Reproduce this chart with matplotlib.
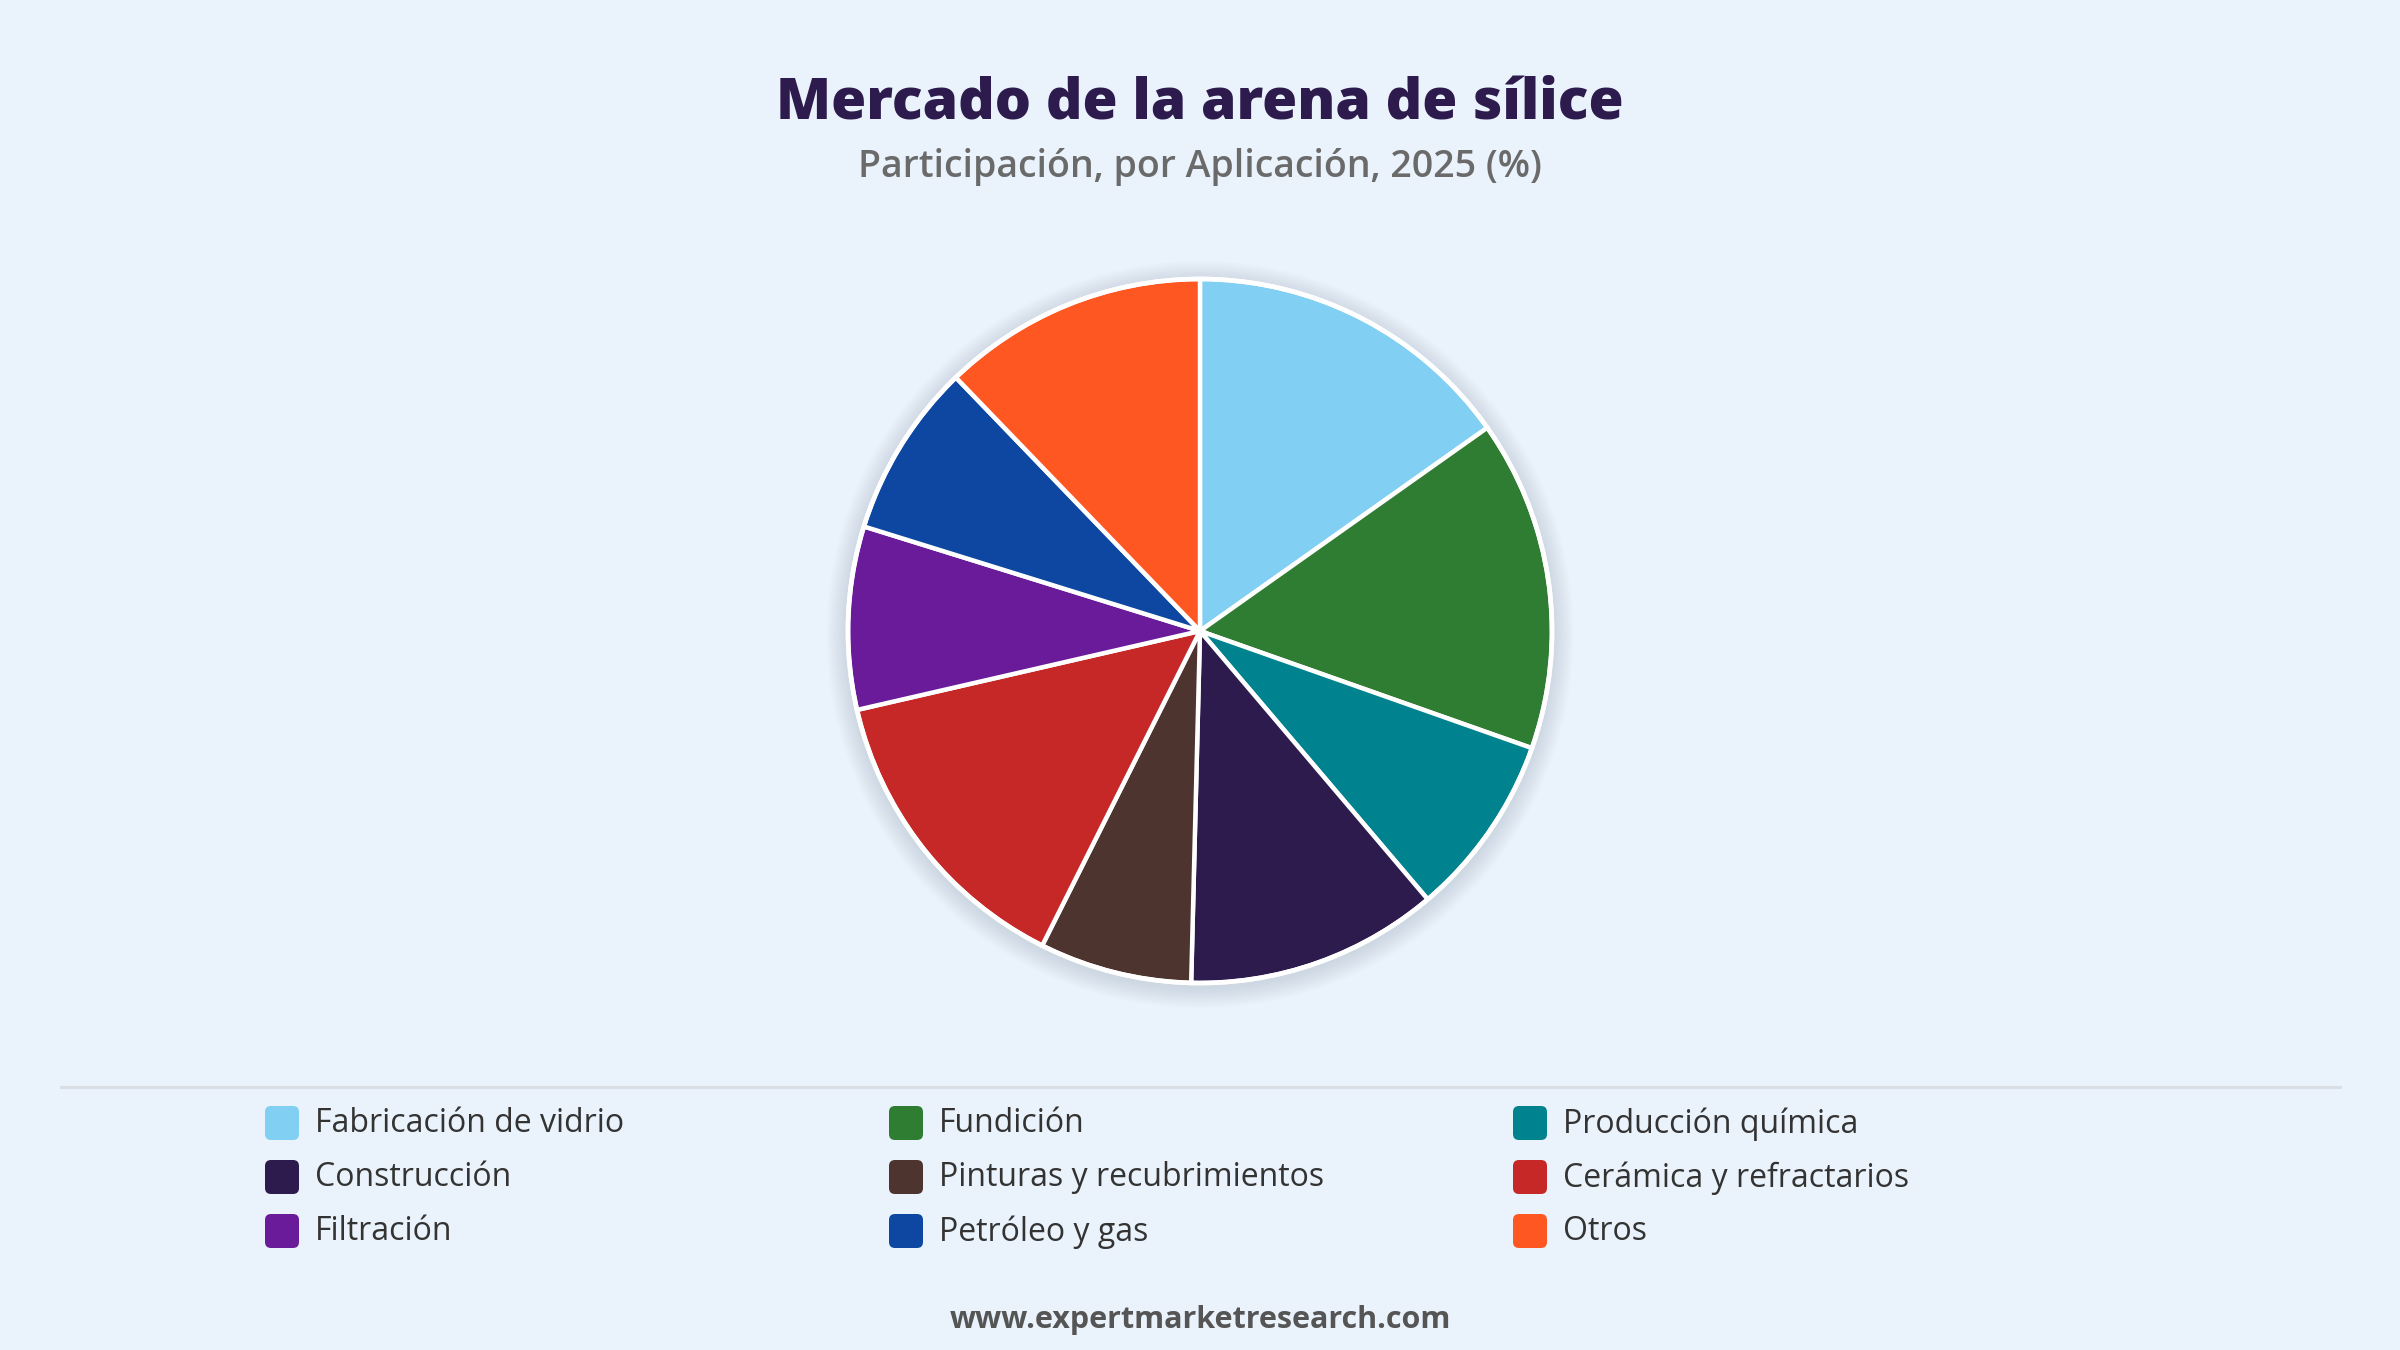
import matplotlib.pyplot as plt
from matplotlib.patches import FancyBboxPatch, Circle

# shares by application, 2025 (%)
applications = ['Fabricación de vidrio', 'Fundición', 'Producción química',
                'Construcción', 'Pinturas y recubrimientos', 'Cerámica y refractarios',
                'Filtración', 'Petróleo y gas', 'Otros']
shares = [15.2, 15.2, 8.4, 11.6, 7.0, 14.0, 8.4, 8.0, 12.2]
colors = ['#81CFF2', '#2E7D32', '#00838F', '#2D1B4E', '#4E342E', '#C62828',
          '#6A1B9A', '#0D47A1', '#FF5722']

title = 'Mercado de la arena de sílice'
subtitle = 'Participación, por Aplicación, 2025 (%)'
source = 'www.expertmarketresearch.com'

bg = '#EAF2FB'
plt.rcParams['font.family'] = ['Open Sans', 'DejaVu Sans']

W, H = 2400, 1350
fig = plt.figure(figsize=(24, 13.5), dpi=100, facecolor=bg)

# overlay axes in pixel coordinates for texts and legend
ov = fig.add_axes([0, 0, 1, 1], facecolor='none')
ov.set_xlim(0, W)
ov.set_ylim(H, 0)
ov.axis('off')

ov.text(W / 2, 104, title, ha='center', va='center', fontsize=41,
        fontweight='heavy', color='#2D1B4E')
ov.text(W / 2, 167, subtitle, ha='center', va='center', fontsize=27,
        fontweight='semibold', color='#6A6A6A')

# pie
cx, cy, r = 1200, 631, 352
box = 800
ax = fig.add_axes([(cx - box / 2) / W, (H - cy - box / 2) / H, box / W, box / H])
lim = (box / 2) / r
ax.set_aspect('equal')
ax.axis('off')

# soft shadow behind the pie
for i in range(10):
    ax.add_patch(Circle((0.0, -0.01), 1.0 + 0.006 * (i + 1), color='#9AA8B8',
                        alpha=0.035, lw=0, zorder=0))

ax.pie(shares, colors=colors, startangle=90, counterclock=False, radius=1,
       wedgeprops=dict(edgecolor='white', linewidth=3.2, zorder=2))
ax.add_patch(Circle((0, 0), 1.0, fill=False, edgecolor='white', lw=3.4, zorder=3))
ax.set_xlim(-lim, lim)
ax.set_ylim(-lim, lim)

# separator
ov.plot([61, 2340], [1087, 1087], color='#D9DEE4', lw=2.2)

# legend, 3 columns, row-major
col_x = [265, 889, 1513]
row_y = [1123, 1177, 1231]
for i, (lab, c) in enumerate(zip(applications, colors)):
    x = col_x[i % 3]
    y = row_y[i // 3]
    ov.add_patch(FancyBboxPatch((x + 4, y - 13), 26, 26,
                                boxstyle='round,pad=4,rounding_size=6',
                                facecolor=c, edgecolor='none'))
    ov.text(x + 50, y + 1, lab, ha='left', va='center', fontsize=23, color='#333333')

ov.text(W / 2, 1320, source, ha='center', va='center', fontsize=22,
        fontweight='bold', color='#555555')

fig.savefig('out.png', dpi=100, facecolor=bg)
